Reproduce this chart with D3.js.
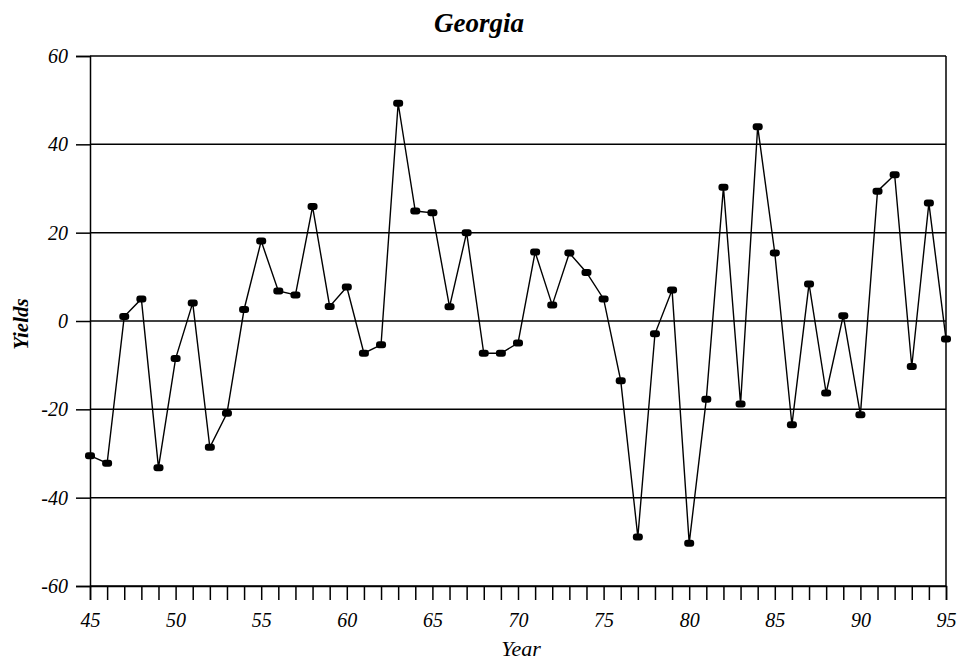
<!DOCTYPE html>
<html>
<head>
<meta charset="utf-8">
<script src="https://cdn.jsdelivr.net/npm/d3@7"></script>
<style>
  body { margin: 0; background: #fff; }
  svg text { font-family: "Liberation Serif", "Times New Roman", serif; font-style: italic; }
</style>
</head>
<body>
<div id="chart"></div>
<script>
const years = d3.range(45, 96);
const yields = [
  -30.5, -32.2, 1.0, 5.0, -33.2, -8.5, 4.1, -28.6, -20.9, 2.6,
  18.1, 6.8, 5.9, 25.9, 3.3, 7.7, -7.3, -5.4, 49.3, 24.9,
  24.5, 3.2, 20.0, -7.3, -7.3, -5.0, 15.6, 3.6, 15.4, 11.0,
  5.0, -13.5, -48.9, -2.9, 7.0, -50.3, -17.7, 30.3, -18.8, 44.0,
  15.4, -23.5, 8.4, -16.3, 1.2, -21.2, 29.4, 33.1, -10.3, 26.7,
  -4.1
];
const yTicks = [-60, -40, -20, 0, 20, 40, 60];
const xLabelTicks = [45, 50, 55, 60, 65, 70, 75, 80, 85, 90, 95];

const W = 959, H = 663;
const margin = { top: 56, right: 13, bottom: 77, left: 90 };
const width = W - margin.left - margin.right;
const height = H - margin.top - margin.bottom;

const svg = d3.select("#chart").append("svg")
  .attr("width", W).attr("height", H);
const g = svg.append("g").attr("transform", `translate(${margin.left},${margin.top})`);

const x = d3.scaleLinear().domain([45, 95]).range([0, width]);
const y = d3.scaleLinear().domain([-60, 60]).range([height, 0]);

// horizontal grid lines
g.selectAll(".grid").data(yTicks).enter().append("line")
  .attr("x1", 0).attr("x2", width)
  .attr("y1", d => y(d)).attr("y2", d => y(d))
  .attr("stroke", "#000").attr("stroke-width", 1.5);

// right side of the frame
g.append("line").attr("x1", width).attr("x2", width).attr("y1", 0).attr("y2", height)
  .attr("stroke", "#000").attr("stroke-width", 1.5);

// y axis
const yAxis = g.append("g")
  .call(d3.axisLeft(y).tickValues(yTicks).tickSize(14).tickPadding(8).tickFormat(d => String(d)))
  .attr("font-family", null).attr("font-size", 20);
yAxis.select(".domain").attr("stroke-width", 1.5);
yAxis.selectAll(".tick line").attr("stroke-width", 1.5);

// x axis: yearly ticks, labels every 5
const xAxis = g.append("g").attr("transform", `translate(0,${height})`)
  .call(d3.axisBottom(x).tickValues(years).tickSize(14).tickPadding(13)
    .tickFormat(d => xLabelTicks.includes(d) ? String(d) : ""))
  .attr("font-family", null).attr("font-size", 20);
xAxis.select(".domain").attr("stroke-width", 1.5);
xAxis.selectAll(".tick line").attr("stroke-width", 1.5);

const points = years.map((yr, i) => [yr, yields[i]]);

// data line
g.append("path").datum(points)
  .attr("fill", "none").attr("stroke", "#000").attr("stroke-width", 1.4)
  .attr("d", d3.line().x(d => x(d[0])).y(d => y(d[1])));

// markers
g.selectAll(".dot").data(points).enter().append("rect")
  .attr("x", d => x(d[0]) - 5).attr("y", d => y(d[1]) - 3.5)
  .attr("width", 10).attr("height", 7).attr("rx", 3).attr("ry", 3)
  .attr("fill", "#000");

// title
svg.append("text").attr("x", 479).attr("y", 32).attr("text-anchor", "middle")
  .attr("font-size", 27).attr("font-weight", "bold").text("Georgia");

// axis titles
svg.append("text").attr("x", 521).attr("y", 656).attr("text-anchor", "middle")
  .attr("font-size", 22).text("Year");
svg.append("text").attr("transform", "translate(28,324) rotate(-90)")
  .attr("text-anchor", "middle").attr("font-size", 21).attr("font-weight", "bold")
  .text("Yields");
</script>
</body>
</html>
